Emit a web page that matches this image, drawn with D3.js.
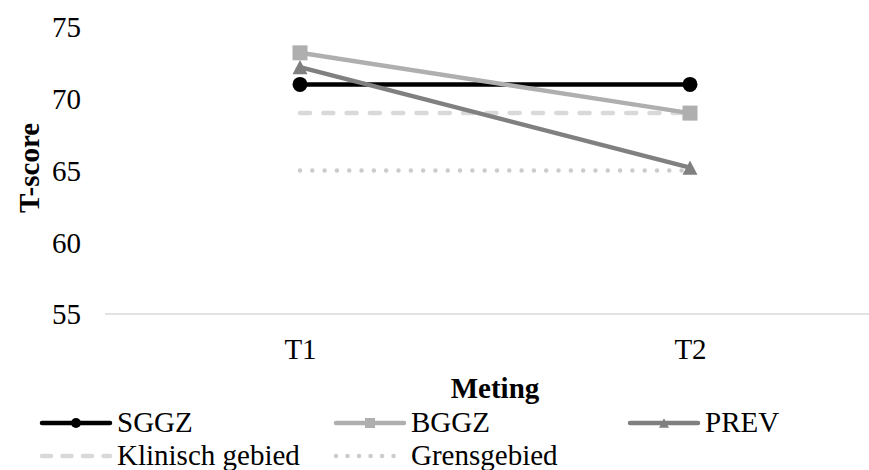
<!DOCTYPE html>
<html>
<head>
<meta charset="utf-8">
<script src="https://cdn.jsdelivr.net/npm/d3@7"></script>
<style>
  html, body { margin: 0; padding: 0; background: #fff; }
  svg { display: block; }
  svg text { font-family: "Times New Roman", "Liberation Serif", Tinos, "DejaVu Serif", serif !important; }
</style>
</head>
<body>
<svg id="chart" width="869" height="470"></svg>
<script>
const categories = ["T1", "T2"];
const sggz = [71.0, 71.0];
const bggz = [73.2, 69.0];
const prev = [72.2, 65.2];
const klinisch = [69, 69];
const grens = [65, 65];
const yTicks = [55, 60, 65, 70, 75];
const seriesNames = ["SGGZ", "BGGZ", "PREV", "Klinisch gebied", "Grensgebied"];

(function () {
const FONT = '"Times New Roman", "Liberation Serif", Tinos, "DejaVu Serif", serif';
const FS = 29;
const svg = d3.select("#chart");
const W = 869, H = 470;
const plotLeft = 105, plotRight = 885, plotTop = 27, plotBottom = 314;

const x = d3.scalePoint().domain(categories).range([plotLeft, plotRight]).padding(0.5);
const y = d3.scaleLinear().domain([55, 75]).range([plotBottom, plotTop]);

// x axis line
svg.append("line")
  .attr("x1", plotLeft).attr("x2", W)
  .attr("y1", y(55)).attr("y2", y(55))
  .attr("stroke", "#d9d9d9").attr("stroke-width", 1.5);

// y tick labels
const yAxis = d3.axisLeft(y).tickValues(yTicks).tickSize(0).tickPadding(0);
const yg = svg.append("g").attr("transform", `translate(81,0)`).call(yAxis)
  .attr("font-family", FONT).attr("font-size", FS);
yg.select(".domain").remove();
yg.selectAll("text").attr("fill", "#000").attr("dy", "0.34em");

// x tick labels
const xAxis = d3.axisBottom(x).tickSize(0).tickPadding(0);
const xg = svg.append("g").attr("transform", `translate(0,338)`).call(xAxis)
  .attr("font-family", FONT).attr("font-size", FS);
xg.select(".domain").remove();
xg.selectAll("text").attr("fill", "#000").attr("dy", "0.71em");

// axis titles
svg.append("text")
  .attr("transform", `translate(39,168) rotate(-90)`)
  .attr("text-anchor", "middle").attr("font-family", FONT)
  .attr("font-size", FS).attr("font-weight", "bold")
  .text("T-score");
svg.append("text")
  .attr("x", 495).attr("y", 398)
  .attr("text-anchor", "middle").attr("font-family", FONT)
  .attr("font-size", FS).attr("font-weight", "bold")
  .text("Meting");

const line = d3.line().x((d, i) => x(categories[i])).y(d => y(d));

// reference lines
svg.append("path").datum(klinisch).attr("d", line)
  .attr("fill", "none").attr("stroke", "#d9d9d9").attr("stroke-width", 4.5)
  .attr("stroke-linecap", "round").attr("stroke-dasharray", "10,13.3");
svg.append("path").datum(grens).attr("d", line)
  .attr("fill", "none").attr("stroke", "#cccccc").attr("stroke-width", 4.5)
  .attr("stroke-linecap", "round").attr("stroke-dasharray", "0.01,12.3");

const series = [
  { name: "SGGZ", values: sggz, color: "#000000", marker: "circle" },
  { name: "BGGZ", values: bggz, color: "#afafaf", marker: "square" },
  { name: "PREV", values: prev, color: "#808080", marker: "triangle" }
];

function drawMarker(g, type, cx, cy, color, s) {
  if (type === "circle") {
    g.append("circle").attr("cx", cx).attr("cy", cy).attr("r", s / 2).attr("fill", color);
  } else if (type === "square") {
    g.append("rect").attr("x", cx - s / 2).attr("y", cy - s / 2)
      .attr("width", s).attr("height", s).attr("fill", color);
  } else {
    const h = s * 0.95;
    g.append("path")
      .attr("d", `M${cx},${cy - h / 2}L${cx + s / 2},${cy + h / 2}L${cx - s / 2},${cy + h / 2}Z`)
      .attr("fill", color);
  }
}

series.forEach(s => {
  const g = svg.append("g");
  g.append("path").datum(s.values).attr("d", line)
    .attr("fill", "none").attr("stroke", s.color).attr("stroke-width", 4.5)
    .attr("stroke-linejoin", "round");
  s.values.forEach((v, i) => drawMarker(g, s.marker, x(categories[i]), y(v), s.color, 15));
});

// legend
const legendItems = [
  { name: seriesNames[0], color: "#000000", marker: "circle", dash: null, col: 0, row: 0 },
  { name: seriesNames[1], color: "#afafaf", marker: "square", dash: null, col: 1, row: 0 },
  { name: seriesNames[2], color: "#808080", marker: "triangle", dash: null, col: 2, row: 0 },
  { name: seriesNames[3], color: "#d9d9d9", marker: null, dash: "9,11.5", col: 0, row: 1 },
  { name: seriesNames[4], color: "#cccccc", marker: null, dash: "0.01,11.5", col: 1, row: 1 }
];
const colX = [40, 334, 628];
const rowY = [423, 456];
legendItems.forEach(it => {
  const lx = colX[it.col], ly = rowY[it.row];
  const g = svg.append("g");
  const ln = g.append("line")
    .attr("x1", lx + 2).attr("x2", lx + 70)
    .attr("y1", ly).attr("y2", ly)
    .attr("stroke", it.color).attr("stroke-width", 4.5).attr("stroke-linecap", "round");
  if (it.dash) ln.attr("stroke-dasharray", it.dash);
  if (it.marker) drawMarker(g, it.marker, lx + 36, ly, it.color, 10);
  g.append("text").attr("x", lx + 77).attr("y", ly + 9).attr("font-family", FONT)
    .attr("font-size", FS).attr("fill", "#000").text(it.name);
});
})();
</script>
</body>
</html>
